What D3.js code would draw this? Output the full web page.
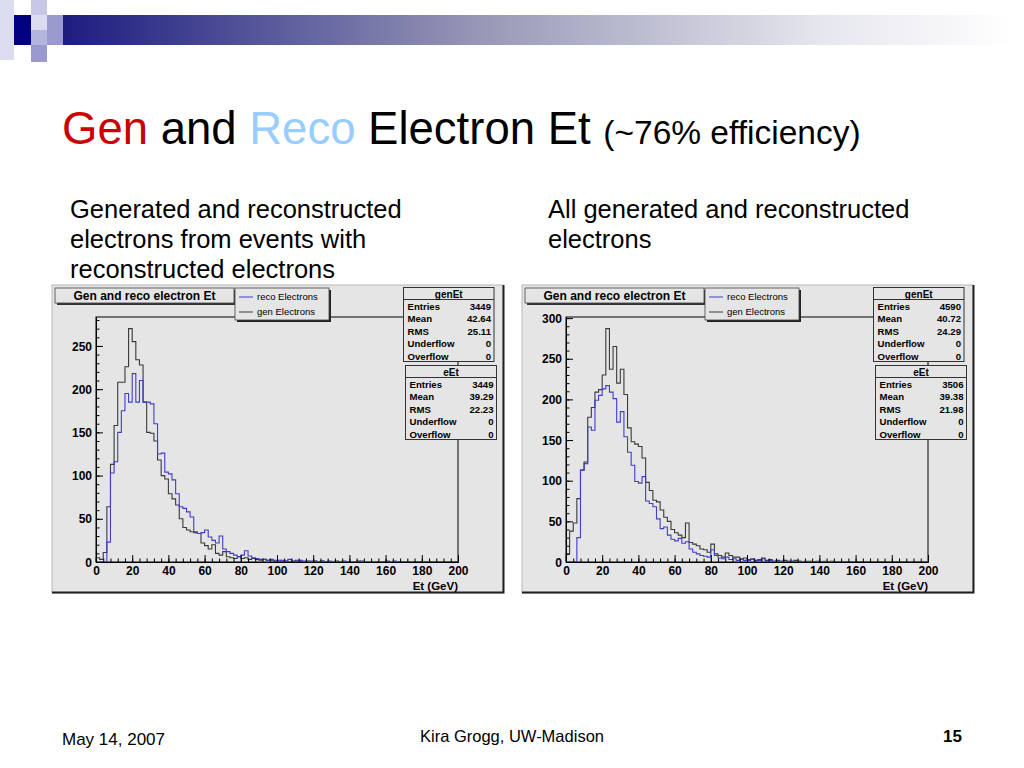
<!DOCTYPE html>
<html><head><meta charset="utf-8">
<script src="https://cdn.jsdelivr.net/npm/d3@7"></script>
<style>body{margin:0;background:#fff}svg{display:block}</style>
</head><body>
<svg id="s" width="1024" height="768"></svg>
<script>
// ---------- DATA (2 GeV bins, 0-200 GeV) ----------
const binEdges = d3.range(0, 201, 2);
const xTicksMajor = [0,20,40,60,80,100,120,140,160,180,200];

const leftGen = [5,3,11,64,113,158,208,208,226,270, 255,234,228,185,150,149,140,118,100,96,
  79,73,66,50,40,37,35,34,33,22, 19,15,20,10,8,12,6,5,4,6,
  4,5,3,4,3,2,3,2,2,1, 2,1,1,0,1,2,1,0,1,0, 1,0,1,0,0,0,1,0,0,0, 0,0,1,0,0,0,0,0,0,0, 1,0,0,0,0,0,0,0,0,0, 0,0,0,0,0,0,0,0,0,0];
const leftReco = [0,0,0,23,103,116,150,175,195,185, 218,185,210,185,185,183,160,125,126,104,
  102,95,79,64,62,58,52,35,33,34, 37,29,25,22,30,15,12,10,8,6,
  8,13,7,5,4,3,3,2,3,2, 1,2,1,3,0,1,2,1,0,1, 1,0,1,0,1,0,0,0,1,0, 0,0,0,1,0,0,0,0,0,0, 0,0,1,0,0,0,0,0,0,0, 0,0,0,0,0,0,0,0,0,0];
const rightGen = [10,38,48,78,113,123,178,190,209,212, 230,287,237,265,220,237,206,165,148,145,
  142,128,98,88,76,74,64,55,50,40, 36,33,30,48,24,22,20,16,15,12,
  22,10,8,6,11,8,6,6,4,5, 3,4,2,3,5,2,3,1,2,1, 2,1,1,2,1,0,1,1,0,1, 0,0,0,1,0,0,0,0,0,0, 0,0,0,0,0,0,0,0,0,0, 0,0,0,0,0,0,0,0,0,0];
const rightReco = [0,0,0,30,113,121,166,162,199,205, 213,217,209,201,172,185,154,135,119,99,
  97,105,75,72,68,53,41,43,33,28, 26,29,23,25,16,12,10,8,7,6,
  15,8,5,4,6,3,4,2,3,2, 2,3,1,2,4,1,2,1,1,1, 0,1,1,0,1,0,0,0,0,0, 0,1,0,0,0,0,0,0,0,0, 0,0,0,0,0,0,0,0,0,0, 0,0,0,0,0,0,0,0,0,0];

const statLabels = ["Entries","Mean","RMS","Underflow","Overflow"];
const leftGenStats = ["3449","42.64","25.11","0","0"];
const leftRecoStats = ["3449","39.29","22.23","0","0"];
const rightGenStats = ["4590","40.72","24.29","0","0"];
const rightRecoStats = ["3506","39.38","21.98","0","0"];
const legendLabels = ["reco Electrons","gen Electrons"];
const histTitle = "Gen and reco electron Et";

// ---------- STYLE ----------
const FONT = "'Liberation Sans', Arial, Helvetica, sans-serif";
const BG = "#e5e5e5";
const BLUE = "#3f3fcc";
const GRAY = "#3a3a3a";

const svg = d3.select("#s");

// ---------- Slide decoration ----------
const grad = svg.append("defs").append("linearGradient").attr("id","bar").attr("x1","0").attr("x2","1");
grad.append("stop").attr("offset","0").attr("stop-color","#1c1c80");
grad.append("stop").attr("offset","0.45").attr("stop-color","#9a9ab8");
grad.append("stop").attr("offset","0.8").attr("stop-color","#e6e6ee");
grad.append("stop").attr("offset","1").attr("stop-color","#ffffff");
svg.append("rect").attr("x",62).attr("y",15).attr("width",950).attr("height",30).attr("fill","url(#bar)");
const sq = [
  [0,0,14,60,"#dcdcf0"],[14,15,17,30,"#000080"],[31,0,16,15,"#c8c8e6"],
  [47,15,16,30,"#9a9acf"],[31,15,16,15,"#dcdcf0"],[31,30,16,15,"#b4b4dc"],[31,45,16,17,"#9a9acf"]
];
sq.forEach(d=>svg.append("rect").attr("x",d[0]).attr("y",d[1]).attr("width",d[2]).attr("height",d[3]).attr("fill",d[4]));

// Title
const t = svg.append("text").attr("x",62).attr("y",144).attr("font-family",FONT).attr("font-size",45.5);
t.append("tspan").attr("fill","#cc0000").text("Gen");
t.append("tspan").attr("fill","#000").text(" and ");
t.append("tspan").attr("fill","#99ccff").text("Reco");
t.append("tspan").attr("fill","#000").text(" Electron Et ");
t.append("tspan").attr("fill","#000").attr("font-size",33.5).text("(~76% efficiency)");

const sub1 = ["Generated and reconstructed","electrons from events with","reconstructed electrons"];
const sub2 = ["All generated and reconstructed","electrons"];
sub1.forEach((s,i)=>svg.append("text").attr("x",70).attr("y",218+i*30).attr("font-family",FONT).attr("font-size",25.5).text(s));
sub2.forEach((s,i)=>svg.append("text").attr("x",548).attr("y",218+i*30).attr("font-family",FONT).attr("font-size",25.5).text(s));

// Footer
svg.append("text").attr("x",62).attr("y",745).attr("font-family",FONT).attr("font-size",17).text("May 14, 2007");
svg.append("text").attr("x",512).attr("y",742).attr("text-anchor","middle").attr("font-family",FONT).attr("font-size",16.5).text("Kira Grogg, UW-Madison");
svg.append("text").attr("x",962).attr("y",742).attr("text-anchor","end").attr("font-family",FONT).attr("font-size",17).attr("font-weight","bold").text("15");

// ---------- Panels ----------
function panel(ox, gen, reco, genStats, recoStats, yMajor) {
  const g = svg.append("g").attr("transform",`translate(${ox},0)`);
  // canvas
  g.append("rect").attr("x",52).attr("y",285).attr("width",451).attr("height",308).attr("fill",BG).attr("stroke","#b8b8b8").attr("stroke-width",1);
  g.append("path").attr("d","M52,592.5H503.5V285").attr("fill","none").attr("stroke","#202020").attr("stroke-width",2);

  const x0 = 96, x1 = 458, yb = 562, yt = 317;
  const ymax = 1.05 * d3.max(gen);
  const x = d3.scaleLinear().domain([0,200]).range([x0,x1]);
  const y = d3.scaleLinear().domain([0,ymax]).range([yb,yt]);

  // frame
  g.append("rect").attr("x",x0).attr("y",yt).attr("width",x1-x0).attr("height",yb-yt).attr("fill",BG).attr("stroke","#000").attr("stroke-width",1);

  // histograms
  const line = d3.line().x(d=>x(d[0])).y(d=>y(d[1])).curve(d3.curveStepAfter);
  function pts(vals){
    const p = [[0,0]];
    vals.forEach((v,i)=>p.push([binEdges[i],v]));
    p.push([200,vals[vals.length-1]]); p.push([200,0]);
    return p;
  }
  g.append("path").attr("d",line(pts(gen))).attr("fill","none").attr("stroke",GRAY).attr("stroke-width",1.1);
  g.append("path").attr("d",line(pts(reco))).attr("fill","none").attr("stroke",BLUE).attr("stroke-width",1.1);

  // axes
  const xa = g.append("g").attr("transform",`translate(0,${yb})`)
    .call(d3.axisBottom(x).tickValues(xTicksMajor).tickSizeInner(-7).tickSizeOuter(0).tickPadding(3).tickFormat(d3.format("d")));
  g.append("g").attr("transform",`translate(0,${yb})`)
    .call(d3.axisBottom(x).tickValues(d3.range(0,201,4)).tickSizeInner(-3.5).tickSizeOuter(0).tickFormat(""));
  const ya = g.append("g").attr("transform",`translate(${x0},0)`)
    .call(d3.axisLeft(y).tickValues(yMajor).tickSizeInner(-7).tickSizeOuter(0).tickPadding(4).tickFormat(d3.format("d")));
  g.append("g").attr("transform",`translate(${x0},0)`)
    .call(d3.axisLeft(y).tickValues(d3.range(0,ymax,10)).tickSizeInner(-3.5).tickSizeOuter(0).tickFormat(""));
  g.selectAll(".domain").attr("stroke","#000");
  g.selectAll(".tick line").attr("stroke","#000");
  [xa,ya].forEach(a=>a.selectAll("text").attr("font-family",FONT).attr("font-weight","bold").attr("font-size",12).attr("fill","#000"));
  xa.selectAll("text").attr("dy","0.82em");
  ya.selectAll("text").attr("dy","0.35em");
  g.append("text").attr("x",x1).attr("y",589.5).attr("text-anchor","end").attr("font-family",FONT).attr("font-weight","bold").attr("font-size",11.5).text("Et (GeV)");

  // title box
  g.append("rect").attr("x",57).attr("y",290).attr("width",179).attr("height",15).attr("fill","#333");
  g.append("rect").attr("x",55).attr("y",288).attr("width",179).attr("height",15).attr("fill",BG).attr("stroke","#444").attr("stroke-width",0.8);
  g.append("text").attr("x",144.5).attr("y",300).attr("text-anchor","middle").attr("font-family",FONT).attr("font-weight","bold").attr("font-size",12).text(histTitle);

  // legend
  g.append("rect").attr("x",237).attr("y",290).attr("width",94).attr("height",32).attr("fill","#222");
  g.append("rect").attr("x",235).attr("y",288).attr("width",94).attr("height",32).attr("fill",BG).attr("stroke","#444").attr("stroke-width",0.8);
  [BLUE,GRAY].forEach((c,i)=>{
    const yy = 297 + i*15;
    g.append("line").attr("x1",239).attr("x2",253).attr("y1",yy).attr("y2",yy).attr("stroke",c).attr("stroke-width",1);
    g.append("text").attr("x",257).attr("y",yy+3).attr("font-family",FONT).attr("font-size",9.5).text(legendLabels[i]);
  });

  // stats boxes
  function stats(bx, by, bw, name, vals){
    const bh = 74;
    g.append("rect").attr("x",bx).attr("y",by).attr("width",bw).attr("height",bh).attr("fill",BG).attr("stroke","#333").attr("stroke-width",1);
    g.append("line").attr("x1",bx).attr("x2",bx+bw).attr("y1",by+12).attr("y2",by+12).attr("stroke","#333").attr("stroke-width",1);
    g.append("text").attr("x",bx+bw/2).attr("y",by+10).attr("text-anchor","middle").attr("font-family",FONT).attr("font-weight","bold").attr("font-size",10).text(name);
    statLabels.forEach((l,i)=>{
      const yy = by + 22.5 + i*12.4;
      g.append("text").attr("x",bx+4).attr("y",yy).attr("font-family",FONT).attr("font-weight","bold").attr("font-size",9.6).text(l);
      g.append("text").attr("x",bx+bw-3).attr("y",yy).attr("text-anchor","end").attr("font-family",FONT).attr("font-weight","bold").attr("font-size",9.6).text(vals[i]);
    });
  }
  stats(403.5, 287.5, 90.5, "genEt", genStats);
  stats(405.5, 365.5, 91, "eEt", recoStats);
}

panel(0, leftGen, leftReco, leftGenStats, leftRecoStats, [0,50,100,150,200,250]);
panel(470, rightGen, rightReco, rightGenStats, rightRecoStats, [0,50,100,150,200,250,300]);
</script>
</body></html>
